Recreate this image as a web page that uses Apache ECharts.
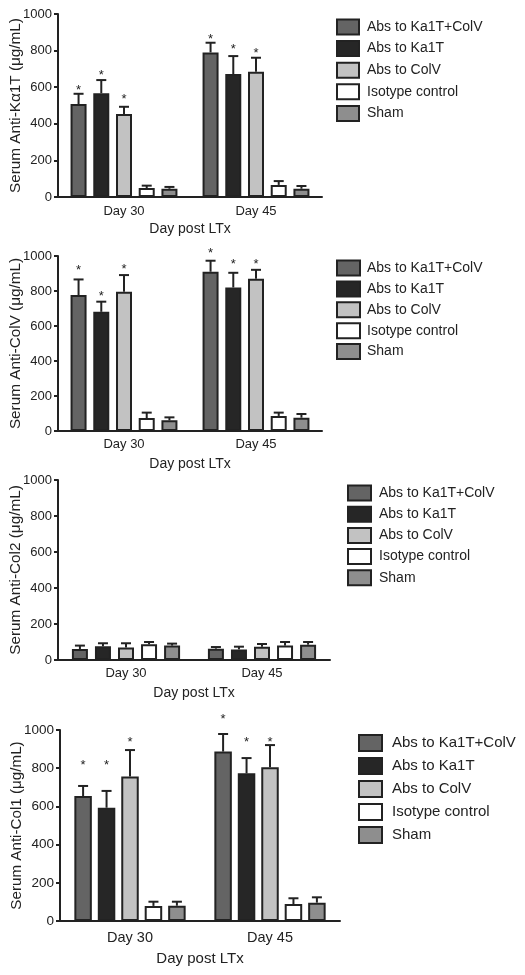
<!DOCTYPE html>
<html>
<head>
<meta charset="utf-8">
<script src="https://cdn.jsdelivr.net/npm/echarts@6/dist/echarts.min.js"></script>
<style>
html,body{margin:0;padding:0;background:#fff;}
#chart{width:525px;height:975px;}
</style>
</head>
<body>
<div id="chart"></div>
<script>
// ---------- data ----------
const categories = ['Day 30', 'Day 45'];
const groupNames = ['Abs to Ka1T+ColV', 'Abs to Ka1T', 'Abs to ColV', 'Isotype control', 'Sham'];
const yTickMin = 0, yTickMax = 1000, yTickStep = 200;
const xAxisTitle = 'Day post LTx';

// Panel A: Serum Anti-Kα1T
const ka1tTitle = 'Serum Anti-K\u03b11T (\u03bcg/mL)';
const ka1tMean = [[508, 790], [567, 672], [453, 685], [49, 66], [45, 45]];
const ka1tErrTop = [[564, 843], [639, 770], [493, 761], [62, 87], [55, 60]];
const ka1tStar = [[600, 880], [680, 825], [549, 800], [null, null], [null, null]];

// Panel B: Serum Anti-ColV
const colVTitle = 'Serum Anti-ColV (\u03bcg/mL)';
const colVMean = [[777, 910], [681, 820], [796, 870], [74, 86], [61, 76]];
const colVErrTop = [[866, 973], [739, 904], [891, 921], [105, 105], [78, 97]];
const colVStar = [[933, 1032], [785, 970], [943, 970], [null, null], [null, null]];

// Panel C: Serum Anti-Col2
const col2Title = 'Serum Anti-Col2 (\u03bcg/mL)';
const col2Mean = [[61, 63], [76, 59], [70, 74], [87, 80], [80, 85]];
const col2ErrTop = [[80, 72], [93, 74], [93, 89], [100, 100], [91, 100]];
const col2Star = [[null, null], [null, null], [null, null], [null, null], [null, null]];

// Panel D: Serum Anti-Col1
const col1Title = 'Serum Anti-Col1 (\u03bcg/mL)';
const col1Mean = [[654, 887], [593, 773], [756, 805], [79, 89], [80, 96]];
const col1ErrTop = [[707, 979], [681, 853], [895, 921], [101, 119], [101, 124]];
const col1Star = [[831, 1073], [831, 951], [951, 951], [null, null], [null, null]];

// ---------- styles ----------
const FONT = 'Liberation Sans, Arial, Helvetica, sans-serif';
const INK = '#222222';
const groupFill = ['#646464', '#262626', '#c2c2c2', '#ffffff', '#8e8e8e'];
const panels = [
  { title: ka1tTitle, mean: ka1tMean, err: ka1tErrTop, star: ka1tStar,
    grid: { left: 58, top: 14, width: 264, height: 183 }, barW: 16, gap: 0.42,
    fs: { tick: 13, cat: 13, name: 14, yname: 15.3 }, catMargin: 8, nameGap: 25, yNameGap: 35,
    legend: { left: 336, top: 18.5, iw: 22, ih: 15, gap: 4.6, fs: 14, pad: 3 } },
  { title: colVTitle, mean: colVMean, err: colVErrTop, star: colVStar,
    grid: { left: 58, top: 256, width: 264, height: 175 }, barW: 16, gap: 0.42,
    fs: { tick: 13, cat: 13, name: 14, yname: 15.3 }, catMargin: 7, nameGap: 26, yNameGap: 35,
    legend: { left: 336, top: 259.5, iw: 23, ih: 15, gap: 3.9, fs: 14, pad: 2 } },
  { title: col2Title, mean: col2Mean, err: col2ErrTop, star: col2Star,
    grid: { left: 58, top: 480, width: 272, height: 180 }, barW: 16, gap: 0.44,
    fs: { tick: 13, cat: 13, name: 14, yname: 15.3 }, catMargin: 7, nameGap: 26, yNameGap: 35,
    legend: { left: 347, top: 484.5, iw: 23, ih: 15, gap: 4.2, fs: 14, pad: 3 } },
  { title: col1Title, mean: col1Mean, err: col1ErrTop, star: col1Star,
    grid: { left: 60, top: 730, width: 280, height: 191 }, barW: 17.5, gap: 0.34,
    fs: { tick: 13.5, cat: 14.5, name: 15, yname: 15.2 }, catMargin: 9, nameGap: 30, yNameGap: 36,
    legend: { left: 358, top: 734, iw: 23, ih: 16, gap: 5, fs: 15, pad: 5 } }
];

const option = { animation: false, backgroundColor: '#fff', grid: [], xAxis: [], yAxis: [], series: [], legend: [] };

panels.forEach((p, i) => {
  option.grid.push(Object.assign({ containLabel: false, outerBoundsMode: 'none' }, p.grid));
  option.xAxis.push({
    gridIndex: i, type: 'category', data: categories,
    axisLine: { show: true, lineStyle: { color: INK, width: 2 } },
    axisTick: { show: false },
    axisLabel: { color: INK, fontSize: p.fs.cat, fontFamily: FONT, margin: p.catMargin },
    name: xAxisTitle, nameLocation: 'middle', nameGap: p.nameGap, nameMoveOverlap: false,
    nameTextStyle: { color: INK, fontSize: p.fs.name, fontFamily: FONT },
    splitLine: { show: false }
  });
  option.yAxis.push({
    gridIndex: i, type: 'value', min: yTickMin, max: yTickMax, interval: yTickStep,
    axisLine: { show: true, lineStyle: { color: INK, width: 2 } },
    axisTick: { show: true, length: 4, lineStyle: { color: INK, width: 2 } },
    axisLabel: { color: INK, fontSize: p.fs.tick, fontFamily: FONT, margin: 6, formatter: v => String(v) },
    splitLine: { show: false },
    name: p.title, nameLocation: 'middle', nameRotate: 90, nameGap: p.yNameGap, nameMoveOverlap: false,
    nameTextStyle: { color: INK, fontSize: p.fs.yname, fontFamily: FONT }
  });
  groupNames.forEach((g, gi) => {
    option.series.push({
      type: 'bar', name: g, xAxisIndex: i, yAxisIndex: i,
      data: p.mean[gi], barWidth: p.barW, barGap: (p.gap * 100) + '%',
      itemStyle: { color: groupFill[gi], borderColor: INK, borderWidth: 2 },
      z: 2
    });
  });
  const errData = [];
  groupNames.forEach((g, gi) => {
    categories.forEach((c, ci) => {
      const s = p.star[gi][ci];
      errData.push([ci, gi, p.mean[gi][ci], p.err[gi][ci], s == null ? '-' : s]);
    });
  });
  const step = p.barW * (1 + p.gap);
  option.series.push({
    type: 'custom', xAxisIndex: i, yAxisIndex: i, clip: false, z: 3,
    dimensions: ['cat', 'grp', 'mean', 'err', 'star'],
    encode: { x: 0, y: 3 },
    data: errData,
    renderItem: function (params, api) {
      const ci = api.value(0), gi = api.value(1);
      const pm = api.coord([ci, api.value(2)]);
      const pe = api.coord([ci, api.value(3)]);
      const x = pm[0] + (gi - 2) * step;
      const cap = 5;
      const children = [
        { type: 'line', shape: { x1: x, y1: pm[1], x2: x, y2: pe[1] }, style: { stroke: INK, lineWidth: 2 } },
        { type: 'line', shape: { x1: x - cap, y1: pe[1], x2: x + cap, y2: pe[1] }, style: { stroke: INK, lineWidth: 2 } }
      ];
      const sv = api.value(4);
      if (!isNaN(sv)) {
        const ps = api.coord([ci, sv]);
        children.push({ type: 'text', style: { text: '*', x: x, y: ps[1] + 3, fill: INK, font: '13px ' + FONT, align: 'center', verticalAlign: 'middle' } });
      }
      return { type: 'group', children: children };
    }
  });
  option.legend.push({
    orient: 'vertical', left: p.legend.left, top: p.legend.top, padding: 0,
    itemWidth: p.legend.iw, itemHeight: p.legend.ih, itemGap: p.legend.gap,
    icon: 'rect', selectedMode: false, data: groupNames,
    itemStyle: { borderColor: INK, borderWidth: 2 },
    textStyle: { color: INK, fontSize: p.legend.fs, fontFamily: FONT, padding: [0, 0, 0, p.legend.pad] }
  });
});

const chart = echarts.init(document.getElementById('chart'), null, { renderer: 'canvas' });
chart.setOption(option);
</script>
</body>
</html>
